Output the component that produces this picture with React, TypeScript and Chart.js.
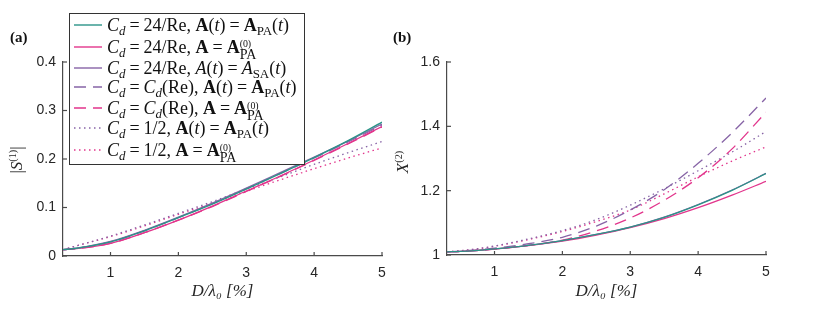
import React, { useEffect, useRef } from "react";
import { Chart, registerables } from "chart.js";
Chart.register(...registerables);

// ---------- data ----------
const xValues = [0.3, 0.5, 1, 1.5, 2, 2.5, 3, 3.5, 4, 4.5, 5];
const xTickValues = [1, 2, 3, 4, 5];
const yTicksA = [0, 0.1, 0.2, 0.3, 0.4];
const yTicksB = [1, 1.2, 1.4, 1.6];

const seriesLabels = [
  "C_d = 24/Re, A(t) = A_PA(t)",
  "C_d = 24/Re, A = A_PA^(0)",
  "C_d = 24/Re, A(t) = A_SA(t)",
  "C_d = C_d(Re), A(t) = A_PA(t)",
  "C_d = C_d(Re), A = A_PA^(0)",
  "C_d = 1/2, A(t) = A_PA(t)",
  "C_d = 1/2, A = A_PA^(0)",
];

// panel (a): |S^(1)|
const aStokesPA = [0.013, 0.016, 0.029, 0.052, 0.079, 0.107, 0.138, 0.17, 0.203, 0.238, 0.276];
const aStokesPA0 = [0.013, 0.015, 0.026, 0.048, 0.074, 0.103, 0.134, 0.165, 0.198, 0.232, 0.267];
const aStokesSA = [0.013, 0.016, 0.03, 0.053, 0.08, 0.109, 0.14, 0.172, 0.204, 0.237, 0.272];
const aCdRePA = [0.013, 0.016, 0.029, 0.052, 0.079, 0.108, 0.139, 0.17, 0.202, 0.235, 0.27];
const aCdRePA0 = [0.013, 0.015, 0.026, 0.048, 0.074, 0.102, 0.133, 0.164, 0.197, 0.231, 0.266];
const aHalfPA = [0.013, 0.021, 0.041, 0.064, 0.088, 0.112, 0.138, 0.163, 0.189, 0.213, 0.236];
const aHalfPA0 = [0.013, 0.021, 0.04, 0.062, 0.086, 0.109, 0.133, 0.157, 0.18, 0.202, 0.223];

// panel (b): X^(2)
const bStokesPA = [1.01, 1.011, 1.019, 1.03, 1.045, 1.064, 1.087, 1.117, 1.156, 1.201, 1.253];
const bStokesPA0 = [1.01, 1.011, 1.018, 1.029, 1.043, 1.062, 1.085, 1.113, 1.147, 1.186, 1.229];
const bStokesSA = [1.01, 1.011, 1.019, 1.03, 1.045, 1.064, 1.087, 1.118, 1.157, 1.202, 1.254];
const bCdRePA = [1.01, 1.012, 1.021, 1.035, 1.055, 1.09, 1.14, 1.203, 1.285, 1.38, 1.488];
const bCdRePA0 = [1.01, 1.011, 1.018, 1.03, 1.046, 1.075, 1.115, 1.17, 1.24, 1.33, 1.444];
const bHalfPA = [1.01, 1.013, 1.028, 1.05, 1.076, 1.11, 1.155, 1.206, 1.262, 1.32, 1.384];
const bHalfPA0 = [1.01, 1.013, 1.027, 1.048, 1.073, 1.104, 1.14, 1.19, 1.243, 1.292, 1.336];

// ---------- styles ----------
const TEAL = "#2b9488";
const PINK = "#e2358c";
const PURPLE = "#8764a6";
const AXIS = "#4a4a4a";
const DASH = [12, 7];
const DOT = [1.5, 3.5];

const styles = [
  { color: TEAL, dash: [] as number[] },
  { color: PINK, dash: [] as number[] },
  { color: PURPLE, dash: [] as number[] },
  { color: PURPLE, dash: DASH },
  { color: PINK, dash: DASH },
  { color: PURPLE, dash: DOT },
  { color: PINK, dash: DOT },
];

const inwardTicks = {
  id: "inwardTicks",
  afterDraw(chart: any) {
    const { ctx, chartArea, scales } = chart;
    ctx.save();
    ctx.strokeStyle = AXIS;
    ctx.lineWidth = 1.2;
    const xs = scales.x;
    xs.ticks.forEach((t: any) => {
      const px = xs.getPixelForValue(t.value);
      ctx.beginPath();
      ctx.moveTo(px, chartArea.bottom);
      ctx.lineTo(px, chartArea.bottom - 4);
      ctx.stroke();
    });
    const ys = scales.y;
    ys.ticks.forEach((t: any) => {
      const py = ys.getPixelForValue(t.value);
      ctx.beginPath();
      ctx.moveTo(chartArea.left, py);
      ctx.lineTo(chartArea.left + 4, py);
      ctx.stroke();
    });
    ctx.restore();
  },
};

function buildConfig(
  series: number[][],
  yMin: number,
  yMax: number,
  yTicks: number[],
  yWidth: number,
  padRight: number,
  xHeight: number
): any {
  return {
    type: "line",
    data: {
      labels: xValues,
      datasets: series.map((s, i) => ({
        label: seriesLabels[i],
        data: s.map((v, j) => ({ x: xValues[j], y: v })),
        borderColor: styles[i].color,
        borderDash: styles[i].dash,
        borderWidth: 1.3,
        pointRadius: 0,
        fill: false,
        cubicInterpolationMode: "monotone",
      })),
    },
    options: {
      responsive: false,
      animation: false,
      devicePixelRatio: 1,
      layout: { padding: { left: 0, top: 62, right: padRight, bottom: 0 } },
      plugins: { legend: { display: false }, tooltip: { enabled: false } },
      scales: {
        x: {
          type: "linear",
          min: 0.3,
          max: 5,
          afterBuildTicks: (s: any) => {
            s.ticks = xTickValues.map((v) => ({ value: v }));
          },
          afterFit: (s: any) => {
            s.height = xHeight;
          },
          grid: { display: true, drawOnChartArea: false, drawTicks: false },
          border: { display: true, color: AXIS, width: 1.2 },
          ticks: {
            autoSkip: false,
            maxRotation: 0,
            padding: 9,
            color: "#262626",
            font: { family: "'Liberation Sans', Arial, sans-serif", size: 14 },
            callback: (v: any) => String(v),
          },
          title: {
            display: true,
            text: "D/λ₀ [%]",
            color: "#262626",
            font: { family: "'Liberation Serif', serif", size: 17, style: "italic" },
            padding: { top: 0, bottom: 17 },
          },
        },
        y: {
          type: "linear",
          min: yMin,
          max: yMax,
          afterBuildTicks: (s: any) => {
            s.ticks = yTicks.map((v) => ({ value: v }));
          },
          afterFit: (s: any) => {
            s.width = yWidth;
          },
          grid: { display: true, drawOnChartArea: false, drawTicks: false },
          border: { display: true, color: AXIS, width: 1.2 },
          ticks: {
            padding: 7,
            color: "#262626",
            font: { family: "'Liberation Sans', Arial, sans-serif", size: 14 },
            callback: (v: any) => String(Math.round(v * 10) / 10),
          },
          title: { display: false },
        },
      },
    },
    plugins: [inwardTicks],
  };
}

function ChartCanvas(props: { left: number; width: number; config: () => any }) {
  const ref = useRef<HTMLCanvasElement | null>(null);
  useEffect(() => {
    if (!ref.current) return;
    const chart = new Chart(ref.current, props.config());
    return () => chart.destroy();
  }, []);
  return (
    <canvas
      ref={ref}
      width={props.width}
      height={319}
      style={{ position: "absolute", left: props.left, top: 0, width: props.width, height: 319 }}
    />
  );
}

// ---------- math text helpers ----------
const Sub = ({ children }: any) => (
  <span style={{ fontSize: "0.72em", position: "relative", top: "0.32em" }}>{children}</span>
);
const Sup = ({ children }: any) => (
  <span style={{ fontSize: "0.6em", position: "relative", top: "-0.55em", fontStyle: "normal" }}>
    {children}
  </span>
);
const SupSub = ({ sup, sub }: any) => (
  <span
    style={{
      display: "inline-flex",
      flexDirection: "column",
      alignItems: "flex-start",
      lineHeight: 0.85,
      verticalAlign: "middle",
      position: "relative",
      top: "0.1em",
    }}
  >
    <span style={{ fontSize: "0.55em", fontStyle: "normal" }}>{sup}</span>
    <span style={{ fontSize: "0.78em" }}>{sub}</span>
  </span>
);
const I = ({ children }: any) => <span style={{ fontStyle: "italic" }}>{children}</span>;
const B = ({ children }: any) => <span style={{ fontWeight: "bold" }}>{children}</span>;
const Eq = () => <span style={{ margin: "0 0.22em" }}>=</span>;
const Cd = () => (
  <>
    <I>C</I>
    <Sub>
      <I>d</I>
    </Sub>
  </>
);

const legendTexts = [
  <>
    <Cd /><Eq />24/Re, <B>A</B>(<I>t</I>)<Eq /><B>A</B><Sub>PA</Sub>(<I>t</I>)
  </>,
  <>
    <Cd /><Eq />24/Re, <B>A</B><Eq /><B>A</B><SupSub sup="(0)" sub="PA" />
  </>,
  <>
    <Cd /><Eq />24/Re, <I>A</I>(<I>t</I>)<Eq /><I>A</I><Sub>SA</Sub>(<I>t</I>)
  </>,
  <>
    <Cd /><Eq /><Cd />(Re), <B>A</B>(<I>t</I>)<Eq /><B>A</B><Sub>PA</Sub>(<I>t</I>)
  </>,
  <>
    <Cd /><Eq /><Cd />(Re), <B>A</B><Eq /><B>A</B><SupSub sup="(0)" sub="PA" />
  </>,
  <>
    <Cd /><Eq />1/2, <B>A</B>(<I>t</I>)<Eq /><B>A</B><Sub>PA</Sub>(<I>t</I>)
  </>,
  <>
    <Cd /><Eq />1/2, <B>A</B><Eq /><B>A</B><SupSub sup="(0)" sub="PA" />
  </>,
];
const legendRowY = [25, 46.7, 67.7, 87, 108, 128, 150];

function Legend() {
  const boxLeft = 69;
  const boxTop = 13;
  return (
    <div
      style={{
        position: "absolute",
        left: boxLeft,
        top: boxTop,
        width: 236,
        height: 152,
        boxSizing: "border-box",
        border: "1px solid #333",
        background: "#fff",
        zIndex: 5,
      }}
    >
      {legendTexts.map((t, i) => {
        const cy = legendRowY[i] - boxTop - 1;
        const st = styles[i];
        return (
          <div key={i}>
            <svg width={30} height={6} style={{ position: "absolute", left: 4, top: cy - 3 }}>
              <line
                x1={0}
                y1={3}
                x2={28}
                y2={3}
                stroke={st.color}
                strokeWidth={1.4}
                strokeDasharray={st.dash.length ? st.dash.join(" ") : undefined}
              />
            </svg>
            <div
              style={{
                position: "absolute",
                left: 37,
                top: cy - 11,
                height: 22,
                lineHeight: "22px",
                whiteSpace: "nowrap",
                fontFamily: "'Liberation Serif', serif",
                fontSize: 18,
                color: "#111",
              }}
            >
              {t}
            </div>
          </div>
        );
      })}
    </div>
  );
}

function YTitle(props: { cx: number; cy: number; children: any }) {
  return (
    <div
      style={{
        position: "absolute",
        left: props.cx,
        top: props.cy,
        transform: "translate(-50%, -50%) rotate(-90deg)",
        fontFamily: "'Liberation Serif', serif",
        fontSize: 17,
        lineHeight: "20px",
        whiteSpace: "nowrap",
        color: "#262626",
      }}
    >
      {props.children}
    </div>
  );
}

const panelLabelStyle: any = {
  position: "absolute",
  top: 27,
  fontFamily: "'Liberation Serif', serif",
  fontWeight: "bold",
  fontSize: 15,
  lineHeight: "20px",
  color: "#111",
};

export default function App() {
  const cfgA = () =>
    buildConfig(
      [aStokesPA, aStokesPA0, aStokesSA, aCdRePA, aCdRePA0, aHalfPA, aHalfPA0],
      0,
      0.4,
      yTicksA,
      63,
      18,
      63
    );
  const cfgB = () =>
    buildConfig(
      [bStokesPA, bStokesPA0, bStokesSA, bCdRePA, bCdRePA0, bHalfPA, bHalfPA0],
      1,
      1.6,
      yTicksB,
      67,
      64,
      64
    );
  return (
    <div
      style={{
        position: "fixed",
        left: 0,
        top: 0,
        width: 830,
        height: 319,
        background: "#fff",
        overflow: "hidden",
      }}
    >
      <ChartCanvas left={0} width={400} config={cfgA} />
      <ChartCanvas left={380} width={450} config={cfgB} />
      <YTitle cx={18} cy={160}>
        |<I>S</I>
        <Sup>(1)</Sup>|
      </YTitle>
      <YTitle cx={404} cy={162}>
        <I>X</I>
        <Sup>(2)</Sup>
      </YTitle>
      <div style={{ ...panelLabelStyle, left: 10 }}>(a)</div>
      <div style={{ ...panelLabelStyle, left: 393 }}>(b)</div>
      <Legend />
    </div>
  );
}
